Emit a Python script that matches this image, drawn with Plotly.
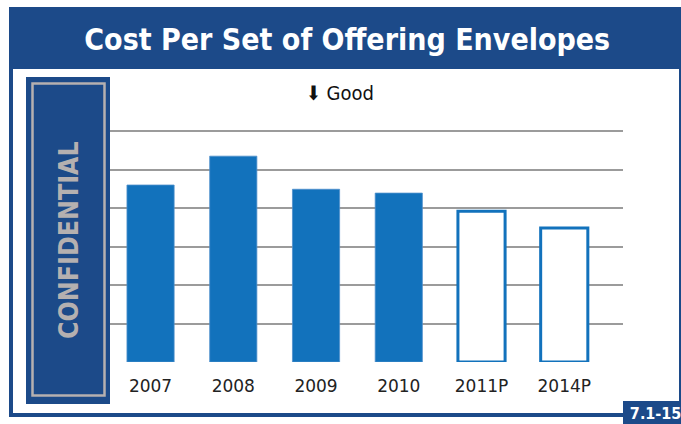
import plotly.graph_objects as go

# ---- data ----
categories = ["2007", "2008", "2009", "2010", "2011P", "2014P"]
values = [4.6, 5.35, 4.49, 4.39, 3.92, 3.48]
projected = [False, False, False, False, True, True]
grid_ticks = [0, 1, 2, 3, 4, 5, 6]

title_text = "Cost Per Set of Offering Envelopes"
side_text = "CONFIDENTIAL"
note_text = "⬇ Good"
badge_text = "7.1-15"

# ---- styles ----
W, H = 681, 424
L, R, T, B = 110, 58, 130, 62
BLUE_DARK = "#1c4a89"
BLUE_BAR = "#1272bc"
GRID = "#9b9b9b"
GRAYTXT = "#b5b0b0"
FONT = "DejaVu Sans, sans-serif"

pw, ph = W - L - R, H - T - B
Y_TOP = 6.03


def px(x):
    return (x - L) / pw


def py(y):
    return (H - B - y) / ph


fill_colors = ["white" if p else BLUE_BAR for p in projected]
line_colors = [BLUE_BAR if p else "#4f8fcc" for p in projected]
line_widths = [3 if p else 0.8 for p in projected]

fig = go.Figure(
    go.Bar(
        x=categories,
        y=values,
        width=0.57,
        marker=dict(color=fill_colors, line=dict(color=line_colors, width=line_widths)),
        hoverinfo="x+y",
    )
)

shapes = [
    dict(type="rect", xref="paper", yref="paper", x0=px(9), x1=px(684), y0=py(417), y1=py(7),
         fillcolor=BLUE_DARK, line=dict(width=0), layer="below"),
    dict(type="rect", xref="paper", yref="paper", x0=px(13), x1=px(679), y0=py(413), y1=py(69),
         fillcolor="white", line=dict(width=0), layer="below"),
    dict(type="rect", xref="paper", yref="paper", x0=px(26), x1=px(110), y0=py(404), y1=py(77),
         fillcolor=BLUE_DARK, line=dict(width=0), layer="below"),
    dict(type="rect", xref="paper", yref="paper", x0=px(32.5), x1=px(104.5), y0=py(395.5), y1=py(83.5),
         fillcolor="rgba(0,0,0,0)", line=dict(width=2.5, color=GRAYTXT), layer="below"),
    dict(type="rect", xref="paper", yref="paper", x0=px(623), x1=px(684), y0=py(426), y1=py(401),
         fillcolor=BLUE_DARK, line=dict(width=0), layer="above"),
]

annotations = [
    dict(text=title_text, xref="paper", yref="paper", x=px(347), y=py(40), showarrow=False,
         xanchor="center", yanchor="middle",
         font=dict(family=FONT, size=30, color="white", weight="bold")),
    dict(text=side_text, xref="paper", yref="paper", x=px(68), y=py(240), showarrow=False,
         xanchor="center", yanchor="middle", textangle=-90,
         font=dict(family=FONT, size=26.5, color=GRAYTXT, weight="bold")),
    dict(text=note_text, xref="paper", yref="paper", x=px(340), y=py(93), showarrow=False,
         xanchor="center", yanchor="middle",
         font=dict(family=FONT, size=20, color="#111111")),
    dict(text=badge_text, xref="paper", yref="paper", x=px(625), y=py(413), showarrow=False,
         xanchor="left", yanchor="middle",
         font=dict(family=FONT, size=16, color="white", weight="bold")),
]

fig.update_layout(
    width=W, height=H,
    margin=dict(l=L, r=R, t=T, b=B, pad=0),
    paper_bgcolor="white",
    plot_bgcolor="rgba(0,0,0,0)",
    showlegend=False,
    shapes=shapes,
    annotations=annotations,
    xaxis=dict(
        type="category", range=[-0.49, 5.71], showgrid=False, zeroline=False,
        showline=False, ticks="", tickfont=dict(family=FONT, size=17, color="#222222"),
        ticklabelstandoff=12, fixedrange=True,
    ),
    yaxis=dict(
        range=[0, Y_TOP], tickvals=grid_ticks, showticklabels=False, showgrid=True,
        gridcolor=GRID, gridwidth=2, zeroline=False, showline=False, ticks="", fixedrange=True,
    ),
)

post = (
    "var s=document.createElement('style');"
    "s.textContent='html,body{margin:0;padding:0;overflow:hidden}"
    ".annotation-text{font-stretch:condensed !important}';"
    "document.head.appendChild(s);"
)

fig.write_html("out.html", post_script=post, config={"displayModeBar": False})
